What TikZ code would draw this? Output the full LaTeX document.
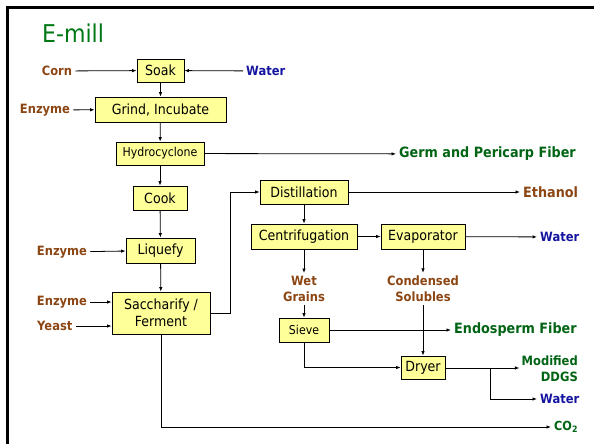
\documentclass[tikz,border=0pt]{standalone}
\usepackage{fontspec}
\setmainfont{DejaVu Sans}[FakeStretch=0.9]
\usetikzlibrary{arrows.meta,calc}
\definecolor{boxfill}{RGB}{255,255,153}
\definecolor{lblbrown}{RGB}{140,70,20}
\definecolor{lblblue}{RGB}{20,20,160}
\definecolor{lblgreen}{RGB}{0,100,20}
\definecolor{titlegreen}{RGB}{0,120,20}
\tikzset{
  box/.style={draw=black, line width=0.8pt, fill=boxfill, inner sep=1pt, align=center,
    font=\fontsize{14}{16.5}\selectfont},
  smallbox/.style={box, font=\fontsize{12.2}{14}\selectfont},
  lbl/.style={inner sep=3pt, align=center, font=\bfseries\fontsize{12.8}{16}\selectfont},
  biglbl/.style={lbl, font=\bfseries\fontsize{14.2}{17}\selectfont},
  brown/.style={text=lblbrown},
  blue/.style={text=lblblue},
  green/.style={text=lblgreen},
  arr/.style={line width=0.8pt, -{Latex[length=4.5pt,width=3.5pt]}},
  ln/.style={line width=0.8pt}
}
\begin{document}
\begin{tikzpicture}[x=1pt,y=-1pt]
\useasboundingbox (0,0) rectangle (594,444);
\draw[line width=2.6pt] (7.5,444) -- (7.5,7.5) -- (594,7.5);
\node[anchor=west, text=titlegreen, inner sep=0pt, font=\fontsize{24.5}{28}\selectfont] (title) at (42,33) {E-mill};

% boxes
\node[box, minimum width=47pt, minimum height=23pt] (soak) at (160.5,70.5) {Soak};
\node[box, minimum width=131pt, minimum height=25pt] (grind) at (160.5,109.5) {Grind,\ Incubate};
\node[smallbox, minimum width=88pt, minimum height=23pt] (hydro) at (160,153.5) {Hydrocyclone};
\node[box, minimum width=54pt, minimum height=24pt] (cook) at (160,198) {Cook};
\node[box, minimum width=69pt, minimum height=25pt] (liq) at (160.5,250.5) {Liquefy};
\node[box, minimum width=98pt, minimum height=42pt] (sacch) at (161,313) {Saccharify /\\Ferment};
\node[box, minimum width=88pt, minimum height=24pt] (dist) at (304,192) {Distillation};
\node[box, minimum width=106pt, minimum height=25pt] (cent) at (304,236.5) {Centrifugation};
\node[box, minimum width=84pt, minimum height=25pt] (evap) at (423,236.5) {Evaporator};
\node[smallbox, minimum width=50pt, minimum height=24pt] (sieve) at (304,330) {Sieve};
\node[box, minimum width=44pt, minimum height=23pt] (dryer) at (423,367.5) {Dryer};

% labels
\node[lbl, brown] (corn) at (57,71) {Corn};
\node[lbl, blue, anchor=west] (water1) at (243,71) {Water};
\node[lbl, brown] (enz1) at (45,110) {Enzyme};
\node[biglbl, green, anchor=west] (germ) at (396,154) {Germ and Pericarp Fiber};
\node[lbl, brown] (enz2) at (62,252) {Enzyme};
\node[lbl, brown] (enz3) at (62,302) {Enzyme};
\node[lbl, brown, anchor=west] (yeast) at (34,326) {Yeast};
\node[biglbl, brown, anchor=west] (eth) at (520,192) {Ethanol};
\node[lbl, blue, anchor=west] (water2) at (537,237) {Water};
\node[lbl, brown] (wet) at (304,289) {Wet\\Grains};
\node[lbl, brown] (cond) at (423,289) {Condensed\\Solubles};
\node[biglbl, green, anchor=west] (endo) at (451,330) {Endosperm Fiber};
\node[lbl, green, anchor=east, align=right, inner sep=2pt] (ddgs) at (580,369) {Modified\\DDGS};
\node[lbl, blue, anchor=west] (water3) at (537,399) {Water};
\node[lbl, green, anchor=west, font=\bfseries\fontsize{12.5}{14}\selectfont] (co2) at (551,427) {CO\textsubscript{2}};

% connectors
\draw[arr] (corn) -- (soak);
\draw[arr] (water1) -- (soak);
\draw[arr] (soak) -- (grind);
\draw[arr] (enz1) -- (grind);
\draw[arr] (grind) -- (hydro);
\draw[arr] (hydro) -- (germ);
\draw[arr] (hydro) -- (cook);
\draw[arr] (cook) -- (liq);
\draw[arr] (enz2) -- (liq);
\draw[arr] (liq) -- (sacch);
\draw[arr] (enz3) -- (enz3 -| sacch.west);
\draw[arr] (yeast) -- (yeast -| sacch.west);
\draw[arr] (sacch.east) -- ++(20,0) |- (dist.west);
\draw[arr] (dist) -- (eth);
\draw[arr] (dist) -- (cent);
\draw[arr] (cent) -- (evap);
\draw[arr] (evap) -- (water2);
\draw[arr] (cent) -- (wet);
\draw[arr] (evap) -- (cond);
\draw[arr] (wet) -- (sieve);
\draw[arr] (cond) -- (dryer);
\draw[arr] (sieve) -- (endo);
\draw[arr] (sieve.south) |- (dryer.west);
\coordinate (br) at (490,368);
\draw[arr] (dryer.east |- br) -- (br -| ddgs.west);
\draw[arr] (br) |- (water3);
\draw[arr] (sacch.south) |- (co2);
\end{tikzpicture}
\end{document}
